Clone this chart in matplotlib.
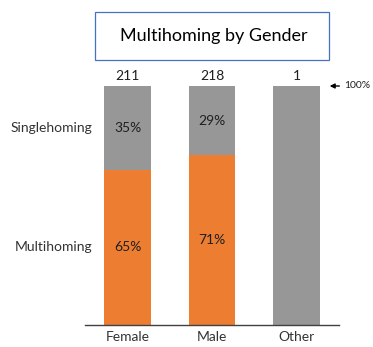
import matplotlib
matplotlib.use("Agg")
import matplotlib.pyplot as plt
from matplotlib.patches import Rectangle

plt.rcParams['font.family'] = ['Lato', 'DejaVu Sans']

categories = ["Female", "Male", "Other"]
multihoming = [65, 71, 0]
singlehoming = [35, 29, 100]
totals = [211, 218, 1]
row_labels = ["Singlehoming", "Multihoming"]

orange = "#ED7D31"
gray = "#979797"
text_dark = "#1f1f1f"
text_mid = "#333333"
fs = 10

W, H = 373, 347
fig = plt.figure(figsize=(W / 100, H / 100), dpi=100)

# plot area in pixel coordinates
left_px, right_px, top_px, base_px = 85, 339, 86, 325
ax = fig.add_axes([left_px / W, 1 - base_px / H,
                   (right_px - left_px) / W, (base_px - top_px) / H])

x = list(range(len(categories)))
bw = 0.556
ax.bar(x, multihoming, width=bw, color=orange, linewidth=0)
ax.bar(x, singlehoming, width=bw, bottom=multihoming, color=gray, linewidth=0)

ax.set_xlim(-0.503, 2.503)
ax.set_ylim(0, 100)

for s in ["top", "right", "left"]:
    ax.spines[s].set_visible(False)
ax.spines["bottom"].set_color("#404040")
ax.spines["bottom"].set_linewidth(1.0)
ax.set_yticks([])
ax.set_xticks(x)
ax.set_xticklabels(categories, fontsize=fs, color=text_mid)
ax.tick_params(axis="x", length=0, pad=4)

# segment value labels
for i in range(len(categories)):
    m, s = multihoming[i], singlehoming[i]
    if m > 0 and s < 100:
        ax.text(i, m / 2, f"{m}%", ha="center", va="center",
                fontsize=fs, color=text_dark)
        ax.text(i, m + s / 2, f"{s}%", ha="center", va="center",
                fontsize=fs, color=text_dark)
    ax.text(i, m + s + 1.8, str(totals[i]), ha="center", va="bottom",
            fontsize=fs, color=text_dark)

# row labels on the left, aligned with the Female segments
ax.text(-0.42, multihoming[0] + singlehoming[0] / 2, row_labels[0],
        ha="right", va="center", fontsize=fs, color=text_mid)
ax.text(-0.42, multihoming[0] / 2, row_labels[1],
        ha="right", va="center", fontsize=fs, color=text_mid)

# 100% marker
ax.annotate("", xy=(2.36, 100), xytext=(2.54, 100),
            arrowprops=dict(arrowstyle="-|>", color="black", lw=1,
                            mutation_scale=7),
            annotation_clip=False)
ax.text(2.565, 100, "100%", ha="left", va="center", fontsize=7.5,
        color=text_dark, clip_on=False)

# boxed title
box = Rectangle((95 / W, 1 - 60 / H), (329 - 95) / W, (60 - 12) / H,
                transform=fig.transFigure, facecolor="white",
                edgecolor="#4472C4", linewidth=0.9)
fig.patches.append(box)
fig.text(214 / W, 1 - 36 / H, "Multihoming by Gender", ha="center",
         va="center", fontsize=13, color="black")

fig.savefig("out.png", dpi=100)
